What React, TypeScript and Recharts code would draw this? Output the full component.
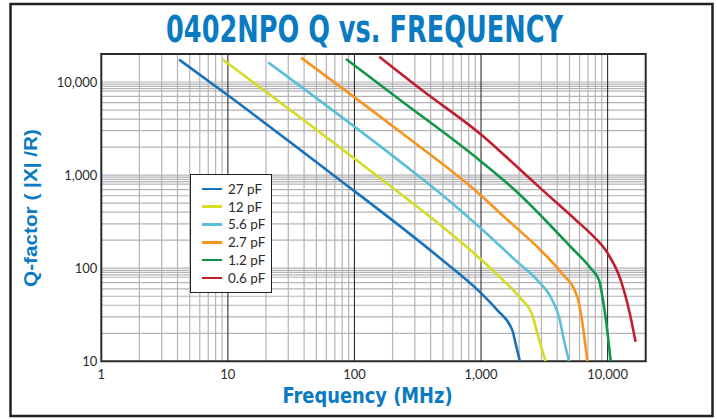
import {
  CartesianGrid,
  Legend,
  Line,
  LineChart,
  ReferenceArea,
  XAxis,
  YAxis,
} from "recharts";

// Frequency in MHz, Q.
const FREQ_27PF = [4.12, 10, 60.7, 478, 1000, 1343, 1766, 1875, 2028];
const Q_27PF = [17400, 7200, 1130, 127, 54, 35.5, 21.6, 15.6, 10];

const FREQ_12PF = [9.13, 132, 478, 1000, 1426, 2055, 2540, 2785, 3236];
const Q_12PF = [17400, 1130, 290, 124, 79, 47.4, 31.4, 20, 10];

const FREQ_5P6PF = [20.8, 231, 478, 1000, 1932, 2785, 3656, 4130, 4520, 4955];
const Q_5P6PF = [16250, 1387, 635, 267, 117, 74.5, 45.5, 30.1, 16.9, 10];

const FREQ_2P7PF = [37.8, 231, 1000, 1563, 2958, 4256, 5770, 6210, 6920];
const Q_2P7PF = [18300, 2900, 605, 345, 156, 91.4, 49.3, 30.1, 10];

const FREQ_1P2PF = [85.8, 231, 1000, 1990, 3140, 5100, 7350, 8550, 9370, 10000, 10590];
const Q_1P2PF = [17650, 6370, 1400, 630, 340, 170, 100, 74.5, 38.5, 20, 10];

const FREQ_0P6PF = [157, 343, 1000, 1990, 2958, 5600, 7350, 10000, 12700, 14760, 16640];
const Q_0P6PF = [18700, 8150, 2730, 1178, 720, 330, 235, 145, 74.5, 35.5, 16.2];

const SERIES_NAMES = ["27 pF", "12 pF", "5.6 pF", "2.7 pF", "1.2 pF", "0.6 pF"];
const SERIES_COLORS = ["#1a72b9", "#d5dc26", "#5cbfd9", "#f7941e", "#12964a", "#c01f2e"];
const SERIES_FREQS = [FREQ_27PF, FREQ_12PF, FREQ_5P6PF, FREQ_2P7PF, FREQ_1P2PF, FREQ_0P6PF];
const SERIES_QS = [Q_27PF, Q_12PF, Q_5P6PF, Q_2P7PF, Q_1P2PF, Q_0P6PF];

const X_TICKS = [1, 10, 100, 1000, 10000];
const Y_TICKS = [10, 100, 1000, 10000];
const X_DECADES = [10, 100, 1000, 10000];
const X_MINOR = [1, 10, 100, 1000].flatMap((d) => [2, 3, 4, 5, 6, 7, 8, 9].map((m) => m * d));
const Y_MINOR = [10, 100, 1000].flatMap((d) => [2, 3, 4, 5, 6, 7, 8, 8.5, 9, 9.5, 10].map((m) => m * d));

const BLUE = "#0a7ac1";
const TEXT = "#2b2b2b";
const TICK_FONT = "Lato, 'Open Sans', sans-serif";

const series = SERIES_NAMES.map((name, i) => ({
  name,
  color: SERIES_COLORS[i],
  points: SERIES_FREQS[i].map((f, j) => ({ f, q: SERIES_QS[i][j] })),
}));

function formatTick(value: number) {
  return value.toLocaleString("en-US");
}

function LegendBox() {
  return (
    <div
      style={{
        background: "#fff",
        border: "1.5px solid #222",
        boxSizing: "border-box",
        height: 119,
        padding: "5px 0 0 11px",
        width: 82,
      }}
    >
      {series.map((s) => (
        <div key={s.name} style={{ alignItems: "center", display: "flex", height: 17.8 }}>
          <i style={{ background: s.color, display: "inline-block", height: 2.6, marginRight: 6, width: 20 }} />
          <span style={{ color: TEXT, fontFamily: TICK_FONT, fontSize: 13.5 }}>{s.name}</span>
        </div>
      ))}
    </div>
  );
}

export default function App() {
  return (
    <div style={{ background: "#fff", height: 419, left: 0, position: "absolute", top: 0, width: 717 }}>
      <LineChart height={419} margin={{ bottom: 27.7, left: 41.3, right: 71.3, top: 54 }} width={717}>
        <CartesianGrid horizontalValues={Y_MINOR} stroke="#b4b4b8" strokeWidth={1.2} verticalValues={X_MINOR} />
        <CartesianGrid horizontal={false} stroke="#2e2e2e" strokeWidth={1.1} verticalValues={X_DECADES} />
        <XAxis
          allowDataOverflow
          axisLine={false}
          dataKey="f"
          domain={[1, 20000]}
          height={30}
          interval={0}
          scale="log"
          tick={{ fill: TEXT, fontFamily: TICK_FONT, fontSize: 13 }}
          tickFormatter={formatTick}
          tickLine={false}
          ticks={X_TICKS}
          type="number"
        />
        <YAxis
          allowDataOverflow
          axisLine={false}
          domain={[10, 20000]}
          interval={0}
          scale="log"
          tick={{ fill: TEXT, fontFamily: TICK_FONT, fontSize: 13 }}
          tickFormatter={formatTick}
          tickLine={false}
          tickMargin={2}
          tickSize={2}
          ticks={Y_TICKS}
          type="number"
          width={60}
        />
        {series.map((s) => (
          <Line
            data={s.points}
            dataKey="q"
            dot={false}
            isAnimationActive={false}
            key={s.name}
            name={s.name}
            stroke={s.color}
            strokeWidth={2.6}
            type="monotone"
          />
        ))}
        <ReferenceArea fill="none" stroke="#2a2a2a" strokeWidth={2} x1={1} x2={20000} y1={10} y2={20000} />
        <Legend
          align="center"
          content={() => <LegendBox />}
          layout="horizontal"
          verticalAlign="middle"
          wrapperStyle={{ left: 190, top: 174, width: 82 }}
        />
      </LineChart>
      <svg height={419} style={{ left: 0, pointerEvents: "none", position: "absolute", top: 0 }} width={717}>
        <rect fill="none" height={412} stroke="#222" strokeWidth={2.5} width={702} x={10.5} y={4} />
        <text
          fill={BLUE}
          fontFamily="'Liberation Sans Narrow', 'DejaVu Sans Condensed', sans-serif"
          fontSize={38}
          fontWeight="bold"
          lengthAdjust="spacingAndGlyphs"
          textAnchor="middle"
          textLength={397}
          x={364.5}
          y={42}
        >
          0402NPO Q vs. FREQUENCY
        </text>
        <text
          fill={BLUE}
          fontFamily="'Liberation Sans Narrow', 'DejaVu Sans Condensed', sans-serif"
          fontSize={21}
          fontWeight="bold"
          lengthAdjust="spacingAndGlyphs"
          textAnchor="middle"
          textLength={170}
          x={367.6}
          y={403}
        >
          Frequency (MHz)
        </text>
        <text
          fill={BLUE}
          fontFamily="'Liberation Sans', Arial, sans-serif"
          fontSize={19}
          fontWeight="bold"
          lengthAdjust="spacingAndGlyphs"
          textAnchor="middle"
          textLength={158}
          transform="translate(37 208) rotate(-90)"
          x={0}
          y={0}
        >
          Q-factor ( |X| /R)
        </text>
      </svg>
    </div>
  );
}
